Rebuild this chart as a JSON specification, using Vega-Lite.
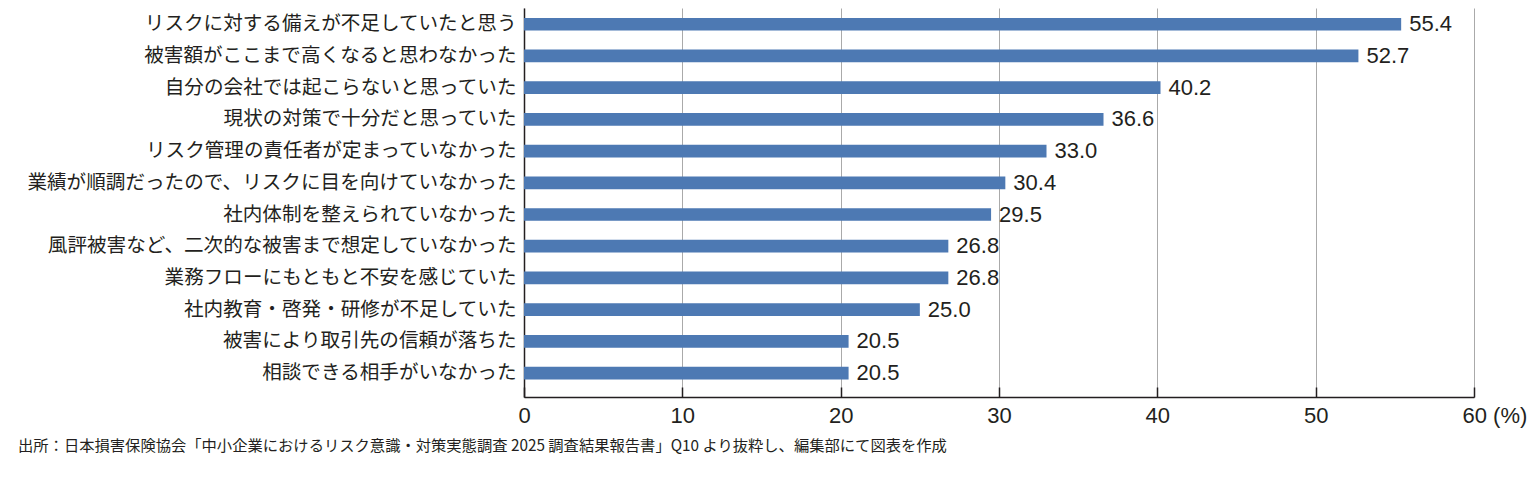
{
  "$schema": "https://vega.github.io/schema/vega-lite/v6.json",
  "width": 950,
  "height": 389,
  "autosize": {"type": "none"},
  "padding": {"left": 524, "top": 8, "right": 66, "bottom": 82},
  "background": "white",
  "config": {"view": {"stroke": null}},
  "title": {
    "text": "出所：日本損害保険協会「中小企業におけるリスク意識・対策実態調査 2025 調査結果報告書」Q10 より抜粋し、編集部にて図表を作成",
    "orient": "bottom",
    "anchor": "start",
    "frame": "group",
    "dx": -506,
    "offset": 13,
    "fontSize": 15.3,
    "font": "Noto Sans CJK JP",
    "fontWeight": "normal",
    "color": "#231f20"
  },
  "data": {
    "values": [
      {"item": "リスクに対する備えが不足していたと思う", "value": 55.4},
      {"item": "被害額がここまで高くなると思わなかった", "value": 52.7},
      {"item": "自分の会社では起こらないと思っていた", "value": 40.2},
      {"item": "現状の対策で十分だと思っていた", "value": 36.6},
      {"item": "リスク管理の責任者が定まっていなかった", "value": 33.0},
      {"item": "業績が順調だったので、リスクに目を向けていなかった", "value": 30.4},
      {"item": "社内体制を整えられていなかった", "value": 29.5},
      {"item": "風評被害など、二次的な被害まで想定していなかった", "value": 26.8},
      {"item": "業務フローにもともと不安を感じていた", "value": 26.8},
      {"item": "社内教育・啓発・研修が不足していた", "value": 25.0},
      {"item": "被害により取引先の信頼が落ちた", "value": 20.5},
      {"item": "相談できる相手がいなかった", "value": 20.5}
    ]
  },
  "encoding": {
    "y": {
      "field": "item",
      "type": "nominal",
      "sort": null,
      "scale": {"paddingInner": 0.6, "paddingOuter": 0.434, "align": 0.36},
      "axis": {
        "title": null,
        "ticks": false,
        "grid": false,
        "domainColor": "#231f20",
        "domainWidth": 1.5,
        "labelFontSize": 19.6,
        "labelFont": "Noto Sans CJK JP",
        "labelColor": "#231f20",
        "labelPadding": 8,
        "labelLimit": 0
      }
    },
    "x": {
      "field": "value",
      "type": "quantitative",
      "scale": {"domain": [0, 60], "nice": false},
      "axis": {
        "title": null,
        "values": [0, 10, 20, 30, 40, 50, 60],
        "grid": true,
        "gridColor": "#aaaaaa",
        "gridWidth": 1,
        "domainColor": "#231f20",
        "domainWidth": 1.5,
        "tickColor": "#231f20",
        "tickSize": -10,
        "tickWidth": 1.5,
        "labelFontSize": 22,
        "labelFont": "Liberation Sans",
        "labelColor": "#231f20",
        "labelPadding": 18,
        "labelFlush": false,
        "labelOverlap": false,
        "labelExpr": "datum.value == 60 ? '60 (%)' : datum.label",
        "labelAlign": {"condition": {"test": "datum.value == 60", "value": "left"}, "value": "center"},
        "labelOffset": {"condition": {"test": "datum.value == 60", "value": -12}, "value": 0}
      }
    }
  },
  "layer": [
    {"mark": {"type": "bar", "color": "#4d79b3"}},
    {
      "mark": {"type": "text", "align": "left", "baseline": "middle", "dx": 8, "fontSize": 22, "font": "Liberation Sans", "color": "#231f20"},
      "encoding": {"text": {"field": "value", "type": "quantitative", "format": ".1f"}}
    }
  ]
}
